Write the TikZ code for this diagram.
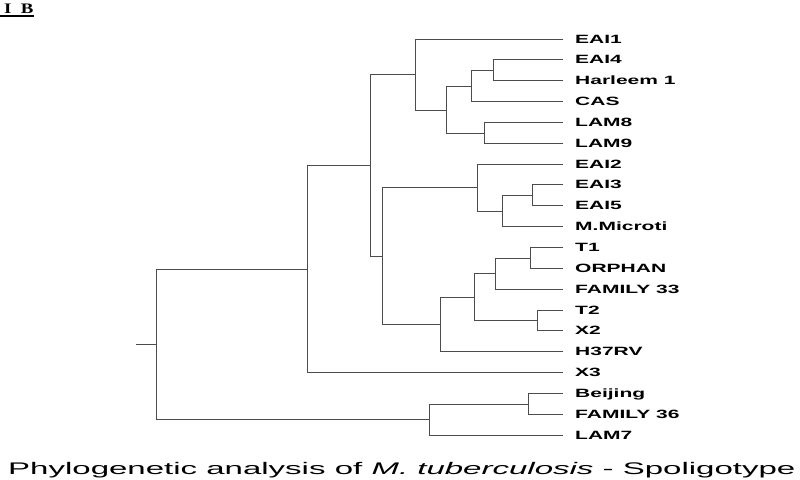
\documentclass[tikz,border=0pt]{standalone}
\usepackage{fontspec}
\setmainfont{Liberation Sans}
\newfontfamily\headfont{Liberation Serif}
\usepackage{graphicx}
\usetikzlibrary{positioning,calc}

\tikzset{
  branch/.style={draw=black!70,line width=1.4pt},
  leaf/.style={anchor=west,inner xsep=12.5pt,inner ysep=0pt,text height=8.6pt,text depth=0pt,
    font=\fontsize{12}{12}\selectfont\bfseries}
}

\begin{document}
\begin{tikzpicture}[x=1pt,y=-1pt]
    \useasboundingbox (0,0) rectangle (800,479);

    % leaves
    \foreach \lab/\y [count=\i from 0] in {EAI1/39.5,EAI4/59.5,Harleem 1/80.5,CAS/101.5,LAM8/122.5,
        LAM9/143.5,EAI2/164.5,EAI3/184.5,EAI5/205.5,M.Microti/226.5,T1/247.5,ORPHAN/268.5,
        FAMILY 33/289.5,T2/310.5,X2/330.5,H37RV/351.5,X3/372.5,Beijing/393.5,FAMILY 36/414.5,LAM7/435.5}
      \node[leaf] (t\i) at (562.5,\y) {\scalebox{1.75}[1]{\lab}};

    % internal nodes
    \coordinate (E) at (493.5,70.5);
    \coordinate (C) at (471.5,86.5);
    \coordinate (D) at (484.5,133.5);
    \coordinate (B) at (446.5,110.5);
    \coordinate (A) at (415.5,74.5);
    \coordinate (H) at (532.5,195.5);
    \coordinate (G) at (502.5,211.5);
    \coordinate (F) at (477.5,187.5);
    \coordinate (M) at (530.5,258.5);
    \coordinate (L) at (495.5,273.5);
    \coordinate (N) at (537.5,320.5);
    \coordinate (K) at (474.5,297.5);
    \coordinate (J) at (440.5,324.5);
    \coordinate (I) at (382.5,256.5);
    \coordinate (P) at (370.5,165.5);
    \coordinate (Q) at (307.5,269.5);
    \coordinate (S) at (528.5,404.5);
    \coordinate (R) at (429.5,419.5);
    \coordinate (root) at (156.5,344.5);
    \coordinate (stub) at (135.5,344.5);

    % branches
    \draw[branch] (E) |- (t1.west) (E) |- (t2.west);
    \draw[branch] (C) |- (E) (C) |- (t3.west);
    \draw[branch] (D) |- (t4.west) (D) |- (t5.west);
    \draw[branch] (B) |- (C) (B) |- (D);
    \draw[branch] (A) |- (t0.west) (A) |- (B);
    \draw[branch] (H) |- (t7.west) (H) |- (t8.west);
    \draw[branch] (G) |- (H) (G) |- (t9.west);
    \draw[branch] (F) |- (t6.west) (F) |- (G);
    \draw[branch] (M) |- (t10.west) (M) |- (t11.west);
    \draw[branch] (L) |- (M) (L) |- (t12.west);
    \draw[branch] (N) |- (t13.west) (N) |- (t14.west);
    \draw[branch] (K) |- (L) (K) |- (N);
    \draw[branch] (J) |- (K) (J) |- (t15.west);
    \draw[branch] (I) |- (F) (I) |- (J);
    \draw[branch] (P) |- (A) (P) |- (I);
    \draw[branch] (Q) |- (P) (Q) |- (t16.west);
    \draw[branch] (S) |- (t17.west) (S) |- (t18.west);
    \draw[branch] (R) |- (S) (R) |- (t19.west);
    \draw[branch] (root) |- (Q) (root) |- (R);
    \draw[branch] (stub) -- (root);

    % heading and caption
    \node[anchor=base west,inner sep=0pt] (head) at (4,13.3)
      {\headfont\fontsize{14.5}{15}\selectfont\bfseries\scalebox{1.3}[1]{I\ \ B}};
    \draw[line width=1.6pt] (0,16) -- (head.base east |- 0,16);
    \node[anchor=base west,inner sep=0pt] (caption) at (8,474)
      {\fontsize{16.8}{18}\selectfont\scalebox{1.965}[1]{Phylogenetic analysis of \textit{M. tuberculosis} - Spoligotype}};
\end{tikzpicture}
\end{document}
